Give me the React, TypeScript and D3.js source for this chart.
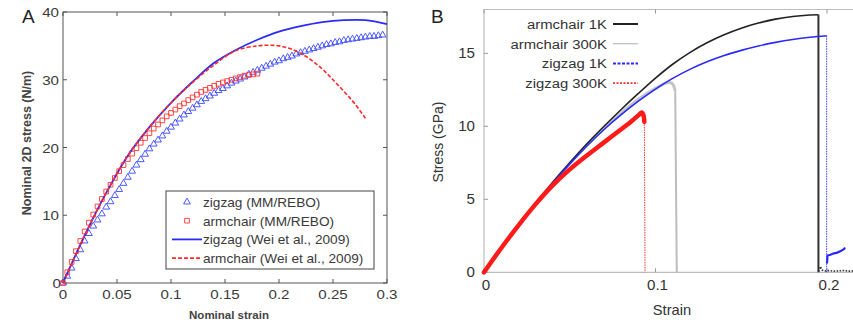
import React from 'react';
import * as d3 from 'd3';

const W = 853;
const H = 323;

// ---------- Panel A data ----------
const aXTicks = [0, 0.05, 0.1, 0.15, 0.2, 0.25, 0.3];
const aXTickLabels = ['0', '0.05', '0.1', '0.15', '0.2', '0.25', '0.3'];
const aYTicks = [0, 10, 20, 30, 40];

const aZzStrain = [0,0.004,0.008,0.012,0.016,0.02,0.024,0.028,0.032,0.036,0.04,0.044,0.048,0.052,0.056,0.06,0.064,0.068,0.072,0.076,0.08,0.084,0.088,0.092,0.096,0.1,0.104,0.108,0.112,0.116,0.12,0.124,0.128,0.132,0.136,0.14,0.144,0.148,0.152,0.156,0.16,0.164,0.168,0.172,0.176,0.18,0.184,0.188,0.192,0.196,0.2,0.204,0.208,0.212,0.216,0.22,0.224,0.228,0.232,0.236,0.24,0.244,0.248,0.252,0.256,0.26,0.264,0.268,0.272,0.276,0.28,0.284,0.288,0.292,0.296];
const aZzStress = [0,1.0,2.2,3.6,4.9,6.2,7.3,8.4,9.3,10.2,11.2,12.0,12.9,13.8,14.7,15.6,16.5,17.4,18.2,19.0,19.8,20.5,21.1,21.7,22.4,23.0,23.6,24.2,24.8,25.3,25.8,26.3,26.8,27.2,27.6,28.0,28.4,28.7,29.1,29.5,29.8,30.1,30.4,30.8,31.1,31.4,31.7,32.0,32.3,32.6,32.8,33.1,33.3,33.5,33.8,34.0,34.2,34.4,34.6,34.8,35.0,35.2,35.3,35.5,35.6,35.8,35.9,36.0,36.1,36.2,36.3,36.4,36.4,36.5,36.6];

const aAcStrain = [0,0.004,0.008,0.012,0.016,0.02,0.024,0.028,0.032,0.036,0.04,0.044,0.048,0.052,0.056,0.06,0.064,0.068,0.072,0.076,0.08,0.084,0.088,0.092,0.096,0.1,0.104,0.108,0.112,0.116,0.12,0.124,0.128,0.132,0.136,0.14,0.144,0.148,0.152,0.156,0.16,0.164,0.168,0.172,0.176,0.18];
const aAcStress = [0,1.6,3.1,4.7,6.2,7.6,8.9,10.1,11.3,12.4,13.5,14.5,15.5,16.5,17.4,18.3,19.1,19.9,20.7,21.4,22.1,22.8,23.4,24.0,24.6,25.1,25.6,26.1,26.5,27.0,27.4,27.8,28.2,28.5,28.8,29.1,29.4,29.6,29.8,30.0,30.2,30.4,30.6,30.7,30.8,30.9];

const weiZzStrain = [0,0.02,0.04,0.06,0.08,0.10,0.12,0.14,0.16,0.18,0.20,0.22,0.24,0.26,0.28,0.30];
const weiZzStress = [0,7.0,13.3,18.8,23.0,26.6,29.7,32.5,34.4,35.9,37.1,37.9,38.5,38.8,38.8,38.2];

const weiAcStrain = [0,0.02,0.04,0.06,0.08,0.10,0.12,0.14,0.16,0.18,0.19,0.20,0.21,0.22,0.23,0.24,0.25,0.26,0.27,0.28];
const weiAcStress = [0,7.0,13.3,18.8,23.0,26.6,29.6,32.2,34.3,35.0,35.1,35.0,34.6,33.9,32.9,31.6,30.0,28.3,26.5,24.3];

const aLegend = ['zigzag (MM/REBO)', 'armchair (MM/REBO)', 'zigzag (Wei et al., 2009)', 'armchair (Wei et al., 2009)'];

// ---------- Panel B data ----------
const bXTicks = [0, 0.1, 0.2];
const bXTickLabels = ['0', '0.1', '0.2'];
const bYTicks = [0, 5, 10, 15];

const arm1KStrain = [0,0.01,0.02,0.03,0.04,0.05,0.06,0.07,0.08,0.09,0.10,0.11,0.12,0.13,0.14,0.15,0.16,0.17,0.18,0.19,0.195];
const arm1KStress = [0,1.65,3.2,4.7,6.15,7.5,8.8,10.0,11.15,12.25,13.3,14.25,15.05,15.72,16.27,16.72,17.07,17.34,17.52,17.62,17.64];
const arm1KFracture = 0.195;
const arm1KAfterStrain = [0.1952,0.1962,0.1972,0.199,0.201,0.204,0.207,0.21,0.213,0.216,0.22];
const arm1KAfterStress = [0.05,0.4,0.15,0.1,0.12,0.08,0.1,0.12,0.08,0.1,0.1];

const arm300Strain = [0,0.01,0.02,0.03,0.04,0.05,0.06,0.07,0.08,0.09,0.10,0.105,0.108,0.110,0.1115];
const arm300Stress = [0,1.65,3.2,4.7,6.12,7.45,8.7,9.85,10.9,11.85,12.6,12.9,13.0,12.9,12.4];
const arm300Fracture = 0.1124;

const zz1KStrain = [0,0.01,0.02,0.03,0.04,0.05,0.06,0.07,0.08,0.09,0.10,0.11,0.12,0.13,0.14,0.15,0.16,0.17,0.18,0.19,0.1998];
const zz1KStress = [0,1.65,3.2,4.68,6.1,7.42,8.65,9.78,10.8,11.72,12.55,13.28,13.9,14.42,14.85,15.2,15.5,15.75,15.95,16.1,16.2];
const zz1KFracture = 0.1998;
const zz1KAfterStrain = [0.2,0.2003,0.202,0.204,0.206,0.208,0.21,0.2105];
const zz1KAfterStress = [0.6,1.15,1.2,1.3,1.35,1.45,1.6,1.7];

const zz300Strain = [0,0.01,0.02,0.03,0.04,0.05,0.06,0.07,0.08,0.085,0.09,0.092,0.093,0.0935];
const zz300Stress = [0,1.65,3.2,4.65,5.95,7.05,8.0,8.9,9.8,10.25,10.75,10.95,10.75,10.3];
const zz300Fracture = 0.0939;

const bLegend = ['armchair 1K', 'armchair 300K', 'zigzag 1K', 'zigzag 300K'];

const FONT = 'Liberation Sans, Arial, Helvetica, sans-serif';

type TP = {
  x: number; y: number; size: number; anchor?: string; sx?: number; weight?: string | number;
  fill?: string; rotate?: number; children: React.ReactNode;
};
const T = ({ x, y, size, anchor = 'start', sx = 1, weight = 'normal', fill = '#333', rotate = 0, children }: TP) => (
  <text
    transform={`translate(${x},${y}) rotate(${rotate}) scale(${sx},1)`}
    textAnchor={anchor as any}
    fontSize={size}
    fontWeight={weight as any}
    fill={fill}
    fontFamily={FONT}
  >
    {children}
  </text>
);

const zip = (xs: number[], ys: number[]) => xs.map((x, i) => [x, ys[i]] as [number, number]);

export default function App() {
  // Panel A scales
  const ax = d3.scaleLinear().domain([0, 0.3]).range([63, 387]);
  const ay = d3.scaleLinear().domain([0, 40]).range([283, 12]);
  const aLine = d3.line<[number, number]>().x(d => ax(d[0])).y(d => ay(d[1])).curve(d3.curveCatmullRom.alpha(0.5));
  const tri = d3.symbol().type(d3.symbolTriangle).size(20)()!;
  const sq = d3.symbol().type(d3.symbolSquare).size(22)()!;

  // Panel B scales
  const bx = d3.scaleLinear().domain([0, 0.25]).range([484, 484 + 0.25 * 1715]);
  const by = d3.scaleLinear().domain([0, 18]).range([272.3, 272.3 - 18 * 14.6]);
  const bLine = d3.line<[number, number]>().x(d => bx(d[0])).y(d => by(d[1])).curve(d3.curveCatmullRom.alpha(0.5));
  const bLin = d3.line<[number, number]>().x(d => bx(d[0])).y(d => by(d[1]));

  const aBlue = '#2b2bff';
  const aRed = '#ff2b2b';
  const frameA = '#555';
  const frameB = '#bdbdbd';

  const lastOf = (xs: number[], ys: number[]) => [xs[xs.length - 1], ys[ys.length - 1]] as [number, number];

  const bLegendStyles = [
    { stroke: '#222', width: 2, dash: '' },
    { stroke: '#bdbdbd', width: 1.2, dash: '' },
    { stroke: '#2a2aff', width: 2, dash: '3,1.5' },
    { stroke: '#ff3030', width: 1.8, dash: '2,1.5' },
  ];

  return (
    <svg width={W} height={H} style={{ position: 'absolute', left: 0, top: 0, background: '#fff' }}>
      <rect x={0} y={0} width={W} height={H} fill="#fff" />

      {/* ================= Panel A ================= */}
      <T x={22} y={23} size={19} fill="#222">A</T>
      <rect x={ax(0)} y={ay(40)} width={ax(0.3) - ax(0)} height={ay(0) - ay(40)} fill="none" stroke={frameA} strokeWidth={1} />
      {aXTicks.map(t => (
        <g key={'axt' + t}>
          <line x1={ax(t)} x2={ax(t)} y1={ay(0)} y2={ay(0) - 4} stroke={frameA} />
          <line x1={ax(t)} x2={ax(t)} y1={ay(40)} y2={ay(40) + 4} stroke={frameA} />
        </g>
      ))}
      {aYTicks.map(t => (
        <g key={'ayt' + t}>
          <line x1={ax(0)} x2={ax(0) + 4} y1={ay(t)} y2={ay(t)} stroke={frameA} />
          <line x1={ax(0.3)} x2={ax(0.3) - 4} y1={ay(t)} y2={ay(t)} stroke={frameA} />
        </g>
      ))}
      {aXTicks.map((t, i) => (
        <T key={'axl' + t} x={ax(t)} y={299} size={13.5} sx={1.12} anchor="middle" fill="#3a3a3a">{aXTickLabels[i]}</T>
      ))}
      {aYTicks.map(t => (
        <T key={'ayl' + t} x={t === 0 ? 61 : 59} y={ay(t) + 5} size={13.5} sx={1.12} anchor="end" fill="#3a3a3a">{String(t)}</T>
      ))}
      <T x={229} y={319} size={11.5} weight="bold" anchor="middle" fill="#444">Nominal strain</T>
      <T x={31} y={143} size={12.5} weight="bold" anchor="middle" fill="#444" rotate={-90}>Nominal 2D stress (N/m)</T>

      {/* MM/REBO markers */}
      {zip(aZzStrain, aZzStress).map((d, i) => (
        <path key={'tri' + i} d={tri} transform={`translate(${ax(d[0])},${ay(d[1])})`} fill="none" stroke="#3a48ff" strokeWidth={0.9} />
      ))}
      {zip(aAcStrain, aAcStress).map((d, i) => (
        <path key={'sq' + i} d={sq} transform={`translate(${ax(d[0])},${ay(d[1])})`} fill="none" stroke="#ff3535" strokeWidth={0.9} />
      ))}
      {/* Wei et al. lines */}
      <path d={aLine(zip(weiZzStrain, weiZzStress))!} fill="none" stroke={aBlue} strokeWidth={1.8} />
      <path d={aLine(zip(weiAcStrain, weiAcStress))!} fill="none" stroke={aRed} strokeWidth={1.6} strokeDasharray="4,2" />

      {/* Legend A */}
      <rect x={166} y={191} width={208} height={78} fill="#fff" stroke="#444" strokeWidth={1} />
      {aLegend.map((s, i) => {
        const cy = 202 + i * 18.7;
        return (
          <g key={'al' + i}>
            {i === 0 && <path d={tri} transform={`translate(187,${cy})`} fill="none" stroke="#3a48ff" strokeWidth={0.9} />}
            {i === 1 && <path d={sq} transform={`translate(187,${cy})`} fill="none" stroke="#ff3535" strokeWidth={0.9} />}
            {i === 2 && <line x1={172} x2={202} y1={cy} y2={cy} stroke={aBlue} strokeWidth={1.8} />}
            {i === 3 && <line x1={172} x2={202} y1={cy} y2={cy} stroke={aRed} strokeWidth={1.6} strokeDasharray="4,2" />}
            <T x={203} y={cy + 5} size={13} sx={1.05} fill="#3a3a3a">{s}</T>
          </g>
        );
      })}

      {/* ================= Panel B ================= */}
      <T x={431} y={23} size={19} fill="#222">B</T>
      <line x1={bx(0)} x2={W} y1={by(0)} y2={by(0)} stroke={frameB} strokeWidth={1.2} />
      <line x1={bx(0)} x2={W} y1={by(18)} y2={by(18)} stroke={frameB} strokeWidth={1.2} />
      <line x1={bx(0)} x2={bx(0)} y1={by(0)} y2={by(18)} stroke={frameB} strokeWidth={1.2} />
      {bXTicks.map(t => (
        <g key={'bxt' + t}>
          <line x1={bx(t)} x2={bx(t)} y1={by(0)} y2={by(0) - 4} stroke="#999" />
          <line x1={bx(t)} x2={bx(t)} y1={by(18)} y2={by(18) + 4} stroke="#999" />
        </g>
      ))}
      {bYTicks.map(t => (
        <line key={'byt' + t} x1={bx(0)} x2={bx(0) + 4} y1={by(t)} y2={by(t)} stroke="#999" />
      ))}
      {bXTicks.map((t, i) => (
        <T key={'bxl' + t} x={bx(t) + 2} y={290} size={14} sx={1.08} anchor="middle" fill="#333">{bXTickLabels[i]}</T>
      ))}
      {bYTicks.map(t => (
        <T key={'byl' + t} x={475} y={by(t) + 5} size={14} sx={1.08} anchor="end" fill="#333">{String(t)}</T>
      ))}
      <T x={672} y={315} size={14} sx={1.05} anchor="middle" fill="#333">Strain</T>
      <T x={443} y={142} size={14} anchor="middle" fill="#333" rotate={-90}>Stress (GPa)</T>

      {/* armchair 300K (gray) */}
      <path d={bLine(zip(arm300Strain, arm300Stress))!} fill="none" stroke="#c4c4c4" strokeWidth={3} strokeLinejoin="round" />
      <path d={bLin([lastOf(arm300Strain, arm300Stress), [arm300Fracture, 0]])!} fill="none" stroke="#bdbdbd" strokeWidth={2} />

      {/* armchair 1K (black) */}
      <path d={bLine(zip(arm1KStrain, arm1KStress))!} fill="none" stroke="#222" strokeWidth={1.6} />
      <path d={bLin([lastOf(arm1KStrain, arm1KStress), [arm1KFracture, 0]])!} fill="none" stroke="#333" strokeWidth={2} />
      <path d={bLin(zip(arm1KAfterStrain, arm1KAfterStress))!} fill="none" stroke="#333" strokeWidth={1.6} strokeDasharray="1.5,1.5" />

      {/* zigzag 1K (blue) */}
      <path d={bLine(zip(zz1KStrain, zz1KStress))!} fill="none" stroke="#2a2aff" strokeWidth={1.6} />
      <path d={bLin([lastOf(zz1KStrain, zz1KStress), [zz1KFracture, 0]])!} fill="none" stroke="#3b3bff" strokeWidth={1} strokeDasharray="1.5,1" />
      <path d={bLin(zip(zz1KAfterStrain, zz1KAfterStress))!} fill="none" stroke="#2a2aff" strokeWidth={2.2} />

      {/* zigzag 300K (red) */}
      <path d={bLine(zip(zz300Strain, zz300Stress))!} fill="none" stroke="#ff1a1a" strokeWidth={4.5} strokeLinejoin="round" strokeLinecap="round" />
      <path d={bLin([lastOf(zz300Strain, zz300Stress), [zz300Fracture, 0]])!} fill="none" stroke="#ff3030" strokeWidth={1} strokeDasharray="1.5,1" />

      {/* Legend B */}
      {bLegend.map((s, i) => {
        const cy = 24 + i * 19.7;
        const st = bLegendStyles[i];
        return (
          <g key={'bl' + i}>
            <T x={607} y={cy + 5} size={13.5} sx={1.1} anchor="end" fill="#333">{s}</T>
            <line x1={613} x2={638} y1={cy} y2={cy} stroke={st.stroke} strokeWidth={st.width} strokeDasharray={st.dash || undefined} />
          </g>
        );
      })}
    </svg>
  );
}
